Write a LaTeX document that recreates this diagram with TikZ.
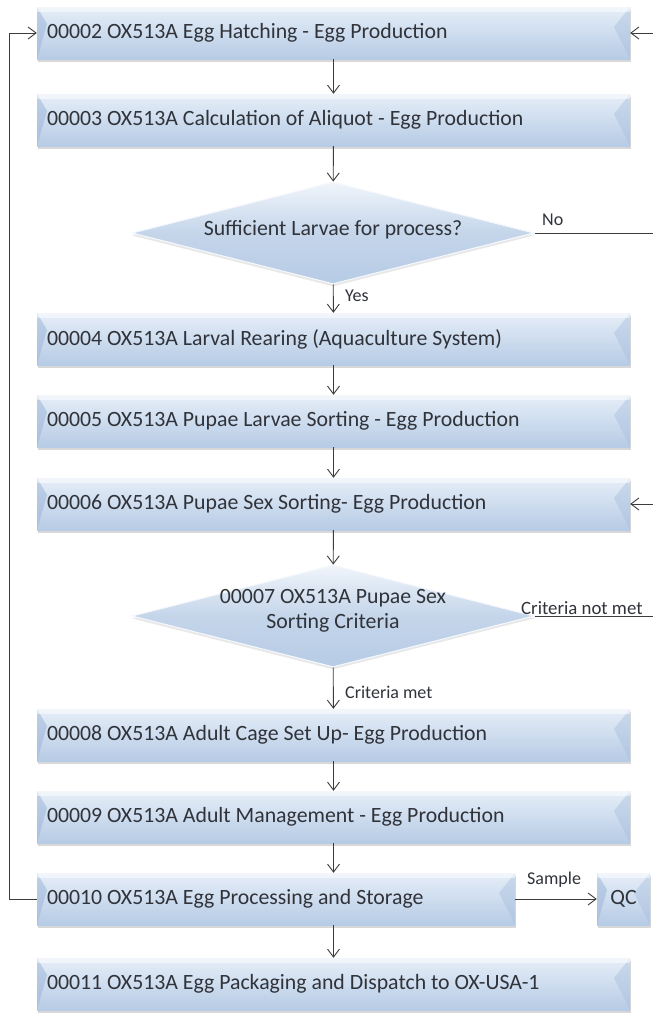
\documentclass[tikz,border=0pt]{standalone}
\usepackage{fontspec}
\setmainfont{Carlito}
\usetikzlibrary{arrows.meta,shapes.geometric,shadows}
\definecolor{boxtop}{HTML}{E6EEF8}
\definecolor{boxbot}{HTML}{B6CBE5}
\definecolor{bevl}{HTML}{9DB6D8}
\definecolor{bevr}{HTML}{A9C0DE}
\definecolor{txt}{HTML}{30333A}
\definecolor{ln}{HTML}{3C3C3C}
\newcommand{\boxfont}{\fontsize{21.8}{25}\selectfont}
\tikzset{
  procbox/.style={rectangle, minimum height=52pt, inner xsep=10pt, inner ysep=0pt,
    align=flush left, text=txt, font=\boxfont,
    top color=boxtop, bottom color=boxbot,
    drop shadow={shadow xshift=0.5pt, shadow yshift=-2.5pt, opacity=0.3, fill=gray},
    path picture={
      \fill[bevl, opacity=0.55] (path picture bounding box.north west) -- ++(10pt,-17pt)
        -- (path picture bounding box.south west) -- cycle;
      \fill[bevr, opacity=0.45] (path picture bounding box.north east) -- ++(-16pt,-20pt)
        -- (path picture bounding box.south east) -- cycle;
      \fill[white,opacity=0.5] (path picture bounding box.north west) rectangle
        ([yshift=-5pt]path picture bounding box.north east);
    }},
  decision/.style={diamond, minimum width=402pt, minimum height=102pt, inner sep=0pt,
    aspect=4, top color=boxtop!60!white, bottom color=boxbot,
    middle color=boxbot!80!white, draw=white!60!boxtop, line width=1pt,
    drop shadow={shadow xshift=0pt, shadow yshift=-2.5pt, opacity=0.18, fill=gray}},
  dtext/.style={text=txt, font=\boxfont, align=flush center},
  lab/.style={text=txt, font=\fontsize{18}{20}\selectfont, inner sep=0pt},
  arr/.style={draw=ln, line width=0.9pt, -{Straight Barb[length=8pt,width=12pt]}},
  plain/.style={draw=ln, line width=0.9pt}
}
\begin{document}
\begin{tikzpicture}[x=1pt,y=-1pt]
\useasboundingbox (0,0) rectangle (653,1020);
\fill[white] (0,0) rectangle (653,1020);

\node[procbox, text width=573pt] (b1) at (333.5,33) {00002 OX513A Egg Hatching - Egg Production};
\node[procbox, text width=573pt] (b2) at (333.5,120) {00003 OX513A Calculation of Aliquot - Egg Production};
\node[decision] (d1) at (333,233) {};
\node[dtext] (d1t) at (333,230) {Sufficient Larvae for process?};
\node[procbox, text width=573pt] (b3) at (333.5,339) {00004 OX513A Larval Rearing (Aquaculture System)};
\node[procbox, text width=573pt] (b4) at (333.5,421) {00005 OX513A Pupae Larvae Sorting - Egg Production};
\node[procbox, text width=573pt] (b5) at (333.5,504) {00006 OX513A Pupae Sex Sorting- Egg Production};
\node[decision] (d2) at (333,616) {};
\node[dtext] (d2t) at (333,611) {00007 OX513A Pupae Sex\\Sorting Criteria};
\node[procbox, text width=573pt] (b6) at (333.5,735) {00008 OX513A Adult Cage Set Up- Egg Production};
\node[procbox, text width=573pt] (b7) at (333.5,817) {00009 OX513A Adult Management - Egg Production};
\node[procbox, text width=458pt] (b8) at (276,899) {00010 OX513A Egg Processing and Storage};
\node[procbox, minimum width=53pt, inner xsep=0pt, align=center] (qc) at (623.5,899) {QC};
\node[procbox, text width=573pt] (b9) at (333.5,984) {00011 OX513A Egg Packaging and Dispatch to OX-USA-1};

\coordinate (r1) at (653,233);
\coordinate (r2) at (653,616);
\coordinate (l1) at (9,899);

\draw[arr] (b1) -- (b2);
\draw[arr] (b2) -- (d1);
\draw[arr] (d1) -- (b3);
\draw[arr] (b3) -- (b4);
\draw[arr] (b4) -- (b5);
\draw[arr] (b5) -- (d2);
\draw[arr] (d2) -- (b6);
\draw[arr] (b6) -- (b7);
\draw[arr] (b7) -- (b8.north -| b7.south);
\draw[arr] (b8.south -| b9.north) -- (b9);
\draw[arr] (b8) -- (qc);
\draw[arr] (d1.east) -- (r1) |- (b1.east);
\draw[arr] (d2.east) -- (r2) |- (b5.east);
\draw[arr] (b8.west) -- (l1) |- (b1.west);

\node[lab, anchor=west] (lyes) at (345,296) {Yes};
\node[lab, anchor=west] (lno) at (542,220) {No};
\node[lab, anchor=west] (lcnm) at (521,608) {\fontsize{18.8}{20}\selectfont Criteria not met};
\node[lab, anchor=west] (lcm) at (345,692) {Criteria met};
\node[lab, anchor=west] (lsam) at (527,880) {Sample};
\end{tikzpicture}
\end{document}
